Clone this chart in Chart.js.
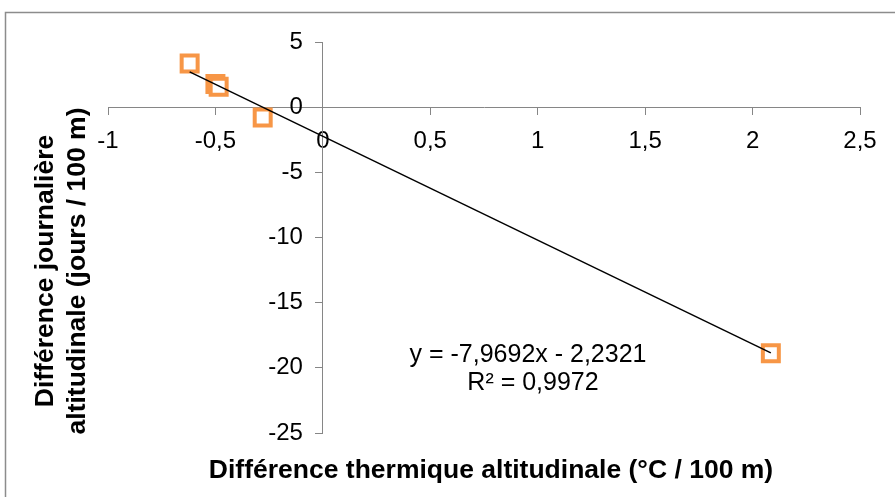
<!DOCTYPE html>
<html>
<head>
<meta charset="utf-8">
<script src="https://cdn.jsdelivr.net/npm/chart.js@4"></script>
<style>
html, body { margin: 0; padding: 0; background: #fff; }
canvas { display: block; }
</style>
</head>
<body>
<canvas id="scatterChart" width="895" height="497"></canvas>
<script>
// values
const tempDiff = [-0.62, -0.50, -0.485, -0.28, 2.085];
const dayDiff = [3.35, 1.77, 1.57, -0.79, -18.88];
const trendX = [-0.62, 2.085];
const trendY = [2.71, -18.85];
const xTickLabels = ['-1', '-0,5', '0', '0,5', '1', '1,5', '2', '2,5'];
const yTickLabels = ['-25', '-20', '-15', '-10', '-5', '0', '5'];
const equationLines = ['y = -7,9692x - 2,2321', 'R² = 0,9972'];
const xTitle = 'Différence thermique altitudinale (°C / 100 m)';
const yTitle = ['Différence journalière', 'altitudinale (jours / 100 m)'];

const FONT = "'Liberation Sans', Arial, sans-serif";
const AXIS_GREY = '#868686';

const textPlugin = {
    id: 'textPlugin',
    beforeDraw(chart) {
        const ctx = chart.ctx;
        ctx.save();
        ctx.strokeStyle = '#8c8c8c';
        ctx.lineWidth = 1.5;
        ctx.strokeRect(5.5, 12.5, 1000, 1000);
        ctx.restore();
    },
    afterDraw(chart) {
        const ctx = chart.ctx;
        ctx.save();
        ctx.fillStyle = '#000';
        ctx.textAlign = 'center';
        ctx.textBaseline = 'alphabetic';

        ctx.font = 'bold 26.5px ' + FONT;
        ctx.fillText(xTitle, 491, 478);

        // rotated y title, baselines at x = 53 and x = 85
        ctx.save();
        ctx.translate(0, 271);
        ctx.rotate(-Math.PI / 2);
        ctx.fillText(yTitle[0], 0, 53);
        ctx.fillText(yTitle[1], 0, 85);
        ctx.restore();

        ctx.font = '25px ' + FONT;
        ctx.textBaseline = 'middle';
        ctx.fillText(equationLines[0], 528, 355);
        ctx.fillText(equationLines[1], 533, 383);
        ctx.restore();
    }
};

const ctx = document.getElementById('scatterChart').getContext('2d');

new Chart(ctx, {
    type: 'scatter',
    data: {
        datasets: [{
            type: 'line',
            data: trendX.map((x, i) => ({ x: x, y: trendY[i] })),
            borderColor: '#000',
            borderWidth: 1.5,
            pointRadius: 0,
            fill: false,
            order: 0
        }, {
            data: tempDiff.map((x, i) => ({ x: x, y: dayDiff[i] })),
            pointStyle: 'rect',
            pointRadius: 11.3,
            pointHoverRadius: 11.3,
            pointBorderWidth: 4,
            pointHoverBorderWidth: 4,
            borderColor: '#F79646',
            backgroundColor: '#fff',
            order: 1
        }]
    },
    options: {
        responsive: false,
        animation: false,
        layout: {
            padding: { left: 108, right: 35, top: 42, bottom: 64 }
        },
        plugins: {
            legend: { display: false },
            tooltip: { enabled: false }
        },
        scales: {
            x: {
                type: 'linear',
                position: { y: 0 },
                min: -1,
                max: 2.5,
                afterFit: (scale) => { scale.height = 0; },
                grid: {
                    drawOnChartArea: false,
                    drawTicks: true,
                    tickLength: 7,
                    color: AXIS_GREY
                },
                border: { color: AXIS_GREY, width: 1 },
                ticks: {
                    stepSize: 0.5,
                    autoSkip: false,
                    maxRotation: 0,
                    padding: 13,
                    color: '#000',
                    font: { family: FONT, size: 24 },
                    callback: (value, index) => xTickLabels[index]
                }
            },
            y: {
                type: 'linear',
                position: { x: 0 },
                min: -25,
                max: 5,
                afterFit: (scale) => { scale.width = 0; },
                grid: {
                    drawOnChartArea: false,
                    drawTicks: true,
                    tickLength: 7,
                    color: AXIS_GREY
                },
                border: { color: AXIS_GREY, width: 1 },
                ticks: {
                    stepSize: 5,
                    autoSkip: false,
                    color: '#000',
                    font: { family: FONT, size: 24 },
                    // labels are right-aligned on the axis line; trailing spaces push them left of the tick marks
                    callback: (value, index) => yTickLabels[index] + '   '
                }
            }
        }
    },
    plugins: [textPlugin]
});
</script>
</body>
</html>
